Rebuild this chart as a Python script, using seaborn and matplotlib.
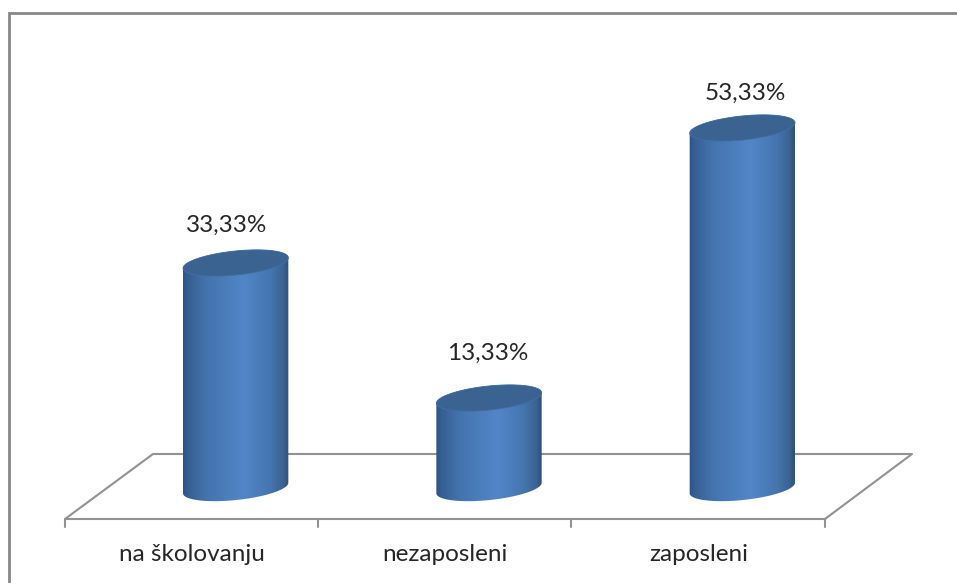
"""
Status ispitanika - stupci u obliku valjka (seaborn + matplotlib)
"""
import numpy as np
import pandas as pd
import matplotlib
matplotlib.use("Agg")
import matplotlib.pyplot as plt
import seaborn as sns
from matplotlib.colors import LinearSegmentedColormap
from matplotlib.lines import Line2D
from matplotlib.patches import PathPatch, Polygon
from matplotlib.path import Path
from matplotlib.transforms import IdentityTransform, ScaledTranslation

categories = ["na školovanju", "nezaposleni", "zaposleni"]
shares = [33.33, 13.33, 53.33]
value_labels = ["33,33%", "13,33%", "53,33%"]

W, H, DPI = 957, 583, 100
GRAY = "#929292"
YLIM = (-4.59, 69.33)

sns.set_theme(style="white")
plt.rcParams["font.family"] = ["Lato", "DejaVu Sans"]

df = pd.DataFrame({"status": categories, "share": shares})

fig = plt.figure(figsize=(W / DPI, H / DPI), dpi=DPI, facecolor="white")
# os je pomaknuta udesno za dubinu "poda", y=0 je na sredini donje elipse
ax = fig.add_axes([109 / W, (H - 519) / H, 760 / W, 499 / H])
ax.patch.set_alpha(0)
sns.barplot(data=df, x="status", y="share", width=0.418, color="#4a7ab8", ax=ax, zorder=2)
ax.set_xlim(-0.5, 2.5)
ax.set_ylim(*YLIM)
ax.set_xlabel("")
ax.set_ylabel("")
ax.set_yticks([])
ax.tick_params(axis="x", length=0, pad=18)
sns.despine(ax=ax, left=True, bottom=True)
for lab in ax.get_xticklabels():
    lab.set_fontsize(17.5)
    lab.set_color("#262626")
    lab.set_transform(lab.get_transform() + ScaledTranslation(-44 / DPI, 0, fig.dpi_scale_trans))


def px(x, y):
    # pikseli slike (y odozgo) -> display koordinate
    return (x, H - y)


# okvir i pod grafikona, ispod valjaka
identity = IdentityTransform()
frame = [(9, 583), (9, 13), (957, 13)]
floor = [
    [(65, 519), (825, 519)],
    [(65, 519), (153, 454), (912, 454), (825, 519)],
]
ticks = [[(x, 519), (x, 527)] for x in (65, 318, 571, 825)]
xs, ys = zip(*[px(*p) for p in frame])
ax.add_line(Line2D(xs, ys, color="#888888", lw=2.0, transform=identity, zorder=1,
                   clip_on=False, solid_joinstyle="miter"))
for pts in floor + ticks:
    xs, ys = zip(*[px(*p) for p in pts])
    ax.add_line(Line2D(xs, ys, color=GRAY, lw=1.5, transform=identity, zorder=1, clip_on=False))

cyl_cmap = LinearSegmentedColormap.from_list(
    "cyl",
    [(0.0, "#2e5482"), (0.05, "#365f92"), (0.22, "#4474ae"),
     (0.58, "#5286c9"), (0.82, "#4676b0"), (0.95, "#386392"), (1.0, "#2f4f75")],
)


def ellipse_points(cx, cy, a, b, t):
    ang = np.deg2rad(6)
    ex = a * np.cos(t)
    ey = b * np.sin(t)
    return np.column_stack([cx + ex * np.cos(ang) - ey * np.sin(ang),
                            cy + ex * np.sin(ang) + ey * np.cos(ang)])


# valjci se crtaju preko seaborn stupaca, iz njihovih stvarnih pozicija
grad = np.linspace(0, 1, 256).reshape(1, -1)
for bar, txt, nudge in zip(ax.patches, value_labels, [(-9, 38), (-1, 45), (3, 35)]):
    x0, y0 = ax.transData.transform((bar.get_x(), 0))
    x1, y1 = ax.transData.transform((bar.get_x() + bar.get_width(), bar.get_height()))
    cx, a = (x0 + x1) / 2, (x1 - x0) / 2
    b = 12

    lower = ellipse_points(cx, y0, a, b, np.linspace(np.pi, 2 * np.pi, 60))
    upper = ellipse_points(cx, y1, a, b, np.linspace(0, np.pi, 60))
    body = Path(np.vstack([lower, upper, lower[:1]]), closed=True)
    clip = PathPatch(body, transform=identity, facecolor="none", edgecolor="none")

    bar.set_visible(False)
    im = ax.imshow(grad, cmap=cyl_cmap, aspect="auto", zorder=3,
                   extent=[bar.get_x(), bar.get_x() + bar.get_width(), -4.5, bar.get_height() + 3])
    ax.add_patch(clip)
    im.set_clip_path(clip)

    whole = ellipse_points(cx, y1, a, b, np.linspace(0, 2 * np.pi, 120))
    ax.add_patch(Polygon(whole, closed=True, transform=identity, facecolor="#3a6392",
                         edgecolor="#41709f", lw=0.6, zorder=4))

    ax.annotate(txt, (bar.get_x() + bar.get_width() / 2, bar.get_height()),
                xytext=(nudge[0] * 72 / DPI, nudge[1] * 72 / DPI), textcoords="offset points",
                ha="center", va="center", fontsize=17.5, color="#262626", zorder=5)

ax.set_xlim(-0.5, 2.5)
ax.set_ylim(*YLIM)

fig.savefig("out.png", dpi=DPI)
plt.close(fig)
